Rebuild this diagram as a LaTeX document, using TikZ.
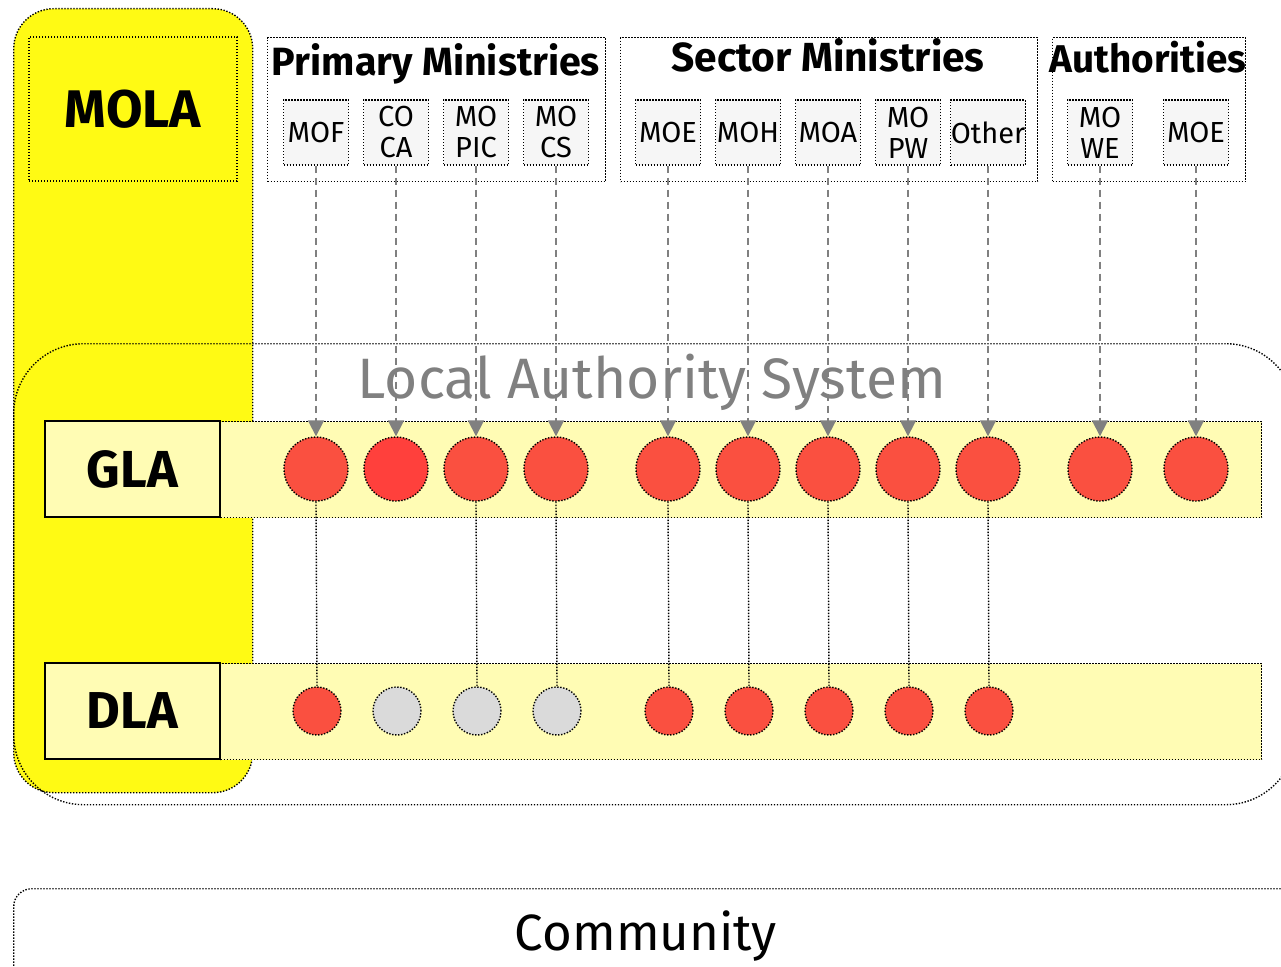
\documentclass[tikz,border=0pt]{standalone}
\usepackage{fontspec}
\setmainfont{Fira Sans}
\usepackage{graphicx}
\usetikzlibrary{arrows.meta}
\definecolor{molay}{RGB}{255,250,20}
\definecolor{bandy}{RGB}{255,252,180}
\definecolor{cred}{RGB}{250,80,64}
\definecolor{cred2}{RGB}{255,64,60}
\definecolor{cgray}{RGB}{218,218,218}
\definecolor{boxg}{RGB}{246,246,246}
\definecolor{arrg}{RGB}{128,128,128}
\newcommand\fitw[2]{\resizebox{#1}{!}{#2}}
\begin{document}
\begin{tikzpicture}[x=1pt,y=-1pt,
  dots/.style={line width=1.4pt, dash pattern=on 1.4pt off 1.6pt},
  molabox/.style={draw, dots, fill=molay, rounded corners=40pt, inner sep=0pt},
  grp/.style={draw, dots, inner sep=0pt, anchor=north west},
  minbox/.style={draw, dots, fill=boxg, minimum width=65pt, minimum height=65pt, inner sep=0pt, align=center, font=\fontsize{29}{31}\selectfont},
  band/.style={draw, dots, fill=bandy, inner sep=0pt, anchor=north west},
  lvlbox/.style={draw=black, line width=1.5pt, fill=bandy, minimum width=175pt, minimum height=96pt, inner sep=0pt},
  gdot/.style={circle, draw, dots, minimum size=64pt, inner sep=0pt},
  ddot/.style={circle, draw, dots, minimum size=48pt, inner sep=0pt},
  arr/.style={draw=arrg, line width=1.8pt, dash pattern=on 7pt off 5pt, -{Triangle[width=16pt,length=16pt]}},
  link/.style={dots},
  ttl/.style={inner sep=0pt, anchor=base}
]
\useasboundingbox (0,0) rectangle (1281,966);
\clip (0,0) rectangle (1281,966);
% MOLA column
\node[molabox, minimum width=239pt, minimum height=784pt, anchor=north west] (molabg) at (13,8) {};
\node[draw, dots, minimum width=208pt, minimum height=144pt, inner sep=0pt] (mola) at (133,109) {\fitw{136pt}{\bfseries MOLA}};
% Local Authority System frame
\node[draw, dots, rounded corners=70pt, minimum width=1282pt, minimum height=461pt, anchor=north west, inner sep=0pt] (las) at (13,343) {};
\node[ttl, text=arrg] (lastitle) at (652,398) {\fitw{588pt}{Local Authority System}};
% Community frame
\node[draw, dots, rounded corners=18pt, minimum width=1300pt, minimum height=120pt, anchor=north west, inner sep=0pt] (comm) at (13,888) {};
\node[ttl] (commtitle) at (646,950) {\fitw{262pt}{Community}};
% Bands
\node[band, minimum width=1041pt, minimum height=96pt] (gband) at (220,421) {};
\node[band, minimum width=1041pt, minimum height=96pt] (dband) at (220,663) {};
\node[lvlbox] (gla) at (132.5,469) {\fitw{91pt}{\bfseries GLA}};
\node[lvlbox] (dla) at (132.5,711) {\fitw{91pt}{\bfseries DLA}};
% Groups
\node[grp, minimum width=338pt, minimum height=144pt] (pm) at (267,37) {};
\node[grp, minimum width=417pt, minimum height=144pt] (sm) at (620,37) {};
\node[grp, minimum width=193pt, minimum height=144pt] (au) at (1052,37) {};
\node[ttl] (pmt) at (436,75) {\fitw{328pt}{\bfseries Primary Ministries}};
\node[ttl] (smt) at (828,72) {\fitw{313pt}{\bfseries Sector Ministries}};
\node[ttl] (aut) at (1148,72) {\fitw{197pt}{\bfseries Authorities}};
% Ministries boxes
\foreach \n/\x/\t in {mof/316/MOF, coca/396/{CO\\CA}, mopic/476/{MO\\PIC}, mocs/556/{MO\\CS},
  moe/668/MOE, moh/748/MOH, moa/828/MOA, mopw/908/{MO\\PW}, oth/988/Other,
  mowe/1100/{MO\\WE}, moe2/1196/MOE}
  \node[minbox] (\n) at (\x,132.5) {\t};
% GLA circles
\foreach \n/\x/\c in {g1/316/cred, g2/396/cred2, g3/476/cred, g4/556/cred,
  g5/668/cred, g6/748/cred, g7/828/cred, g8/908/cred, g9/988/cred, g10/1100/cred, g11/1196/cred}
  \node[gdot, fill=\c] (\n) at (\x,469) {};
% DLA circles
\foreach \n/\x/\c in {d1/317/cred, d2/397/cgray, d3/477/cgray, d4/557/cgray,
  d5/669/cred, d6/749/cred, d7/829/cred, d8/909/cred, d9/989/cred}
  \node[ddot, fill=\c] (\n) at (\x,711) {};
% Arrows ministries -> GLA
\foreach \a/\b in {mof/g1, coca/g2, mopic/g3, mocs/g4, moe/g5, moh/g6, moa/g7, mopw/g8, oth/g9, mowe/g10, moe2/g11}
  \draw[arr] (\a.south) -- (\b.north);
% GLA -> DLA links
\foreach \a/\b in {g1/d1, g3/d3, g4/d4, g5/d5, g6/d6, g7/d7, g8/d8, g9/d9}
  \draw[link] (\a.south) -- (\b.north);
\end{tikzpicture}
\end{document}
